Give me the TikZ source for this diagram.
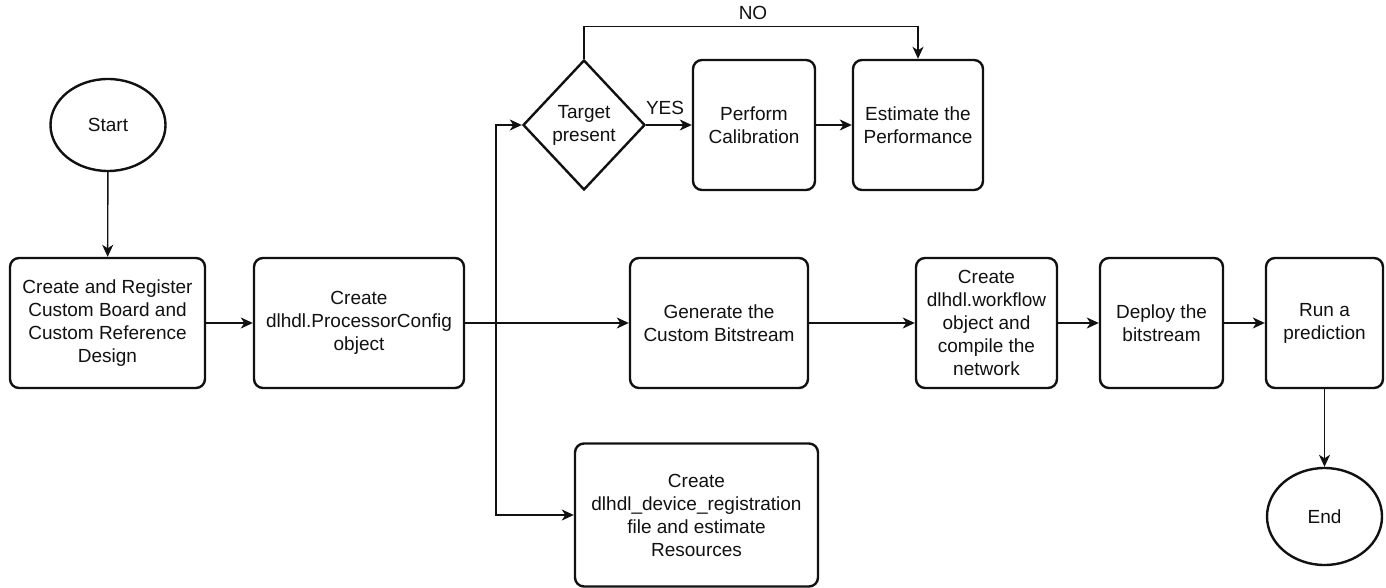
\documentclass[tikz,border=0pt]{standalone}
\usepackage{fontspec}
\setmainfont{Liberation Sans}
\usepackage{xcolor}
\usepackage{tikz}
\usetikzlibrary{arrows.meta,shapes.geometric}
\definecolor{ink}{HTML}{111111}
\definecolor{paper}{HTML}{FFFFFF}
\tikzset{
  stepbox/.style={draw=ink, fill=paper, line width=2.4pt, rounded corners=9pt, align=center,
    inner sep=0pt, minimum height=130pt, text=ink, font=\fontsize{19}{23}\selectfont},
  term/.style={ellipse, draw=ink, fill=paper, line width=2.4pt, inner sep=0pt,
    minimum width=115pt, text=ink, font=\fontsize{19}{23}\selectfont},
  dec/.style={diamond, draw=ink, fill=paper, line width=2.4pt, align=center, inner sep=0pt,
    minimum width=122pt, minimum height=130pt, text=ink, font=\fontsize{19}{23}\selectfont},
  line/.style={draw=ink, line width=1.4pt},
  arr/.style={line, -{Stealth[length=12pt, width=11pt, inset=3.5pt]}},
  lbl/.style={text=ink, font=\fontsize{19}{23}\selectfont}
}

\begin{document}
\begin{tikzpicture}[x=1pt,y=-1pt]
  \useasboundingbox (0,0) rectangle (1386,588);

  \node[term, minimum height=92pt] (start) at (108,125) {Start};
  \node[stepbox, minimum width=195pt] (board) at (107.5,323) {Create and Register\\Custom Board and\\Custom Reference\\Design};
  \node[stepbox, minimum width=210pt] (proc) at (359,323) {Create\\dlhdl.ProcessorConfig\\object};

  \node[dec] (target) at (584,125) {Target\\present};
  \node[stepbox, minimum width=122pt] (calib) at (754,125) {Perform\\Calibration};
  \node[stepbox, minimum width=130pt] (estim) at (918,125) {Estimate the\\Performance};

  \node[stepbox, minimum width=178pt] (gen) at (719,323) {Generate the\\Custom Bitstream};
  \node[stepbox, minimum width=243pt, minimum height=143pt] (devreg) at (696.5,515) {Create\\dlhdl\_device\_registration\\file and estimate\\Resources};

  \node[stepbox, minimum width=141pt] (wflow) at (986.5,323) {Create\\dlhdl.workflow\\object and\\compile the\\network};
  \node[stepbox, minimum width=123pt] (deploy) at (1161.5,323) {Deploy the\\bitstream};
  \node[stepbox, minimum width=117pt] (run) at (1324.5,323) {Run a\\prediction};
  \node[term, minimum height=97pt] (end) at (1324.5,516.5) {End};

  \node[lbl] (yes) at (665,108) {YES};
  \node[lbl] (no) at (753,13) {NO};

  \coordinate (split) at (496,323);

  \draw[arr] (start) -- (board);
  \draw[arr] (board) -- (proc);
  \draw[arr] (proc.east) -- (gen.west);
  \draw[arr] (split) |- (target.west);
  \draw[arr] (split) |- (devreg.west);
  \draw[arr] (target.east) -- (calib.west);
  \draw[arr] (calib) -- (estim);
  \draw[arr] (target.north) -- ++(0,-32) -| (estim.north);
  \draw[arr] (gen) -- (wflow);
  \draw[arr] (wflow) -- (deploy);
  \draw[arr] (deploy) -- (run);
  \draw[arr] (run) -- (end);
\end{tikzpicture}
\end{document}
